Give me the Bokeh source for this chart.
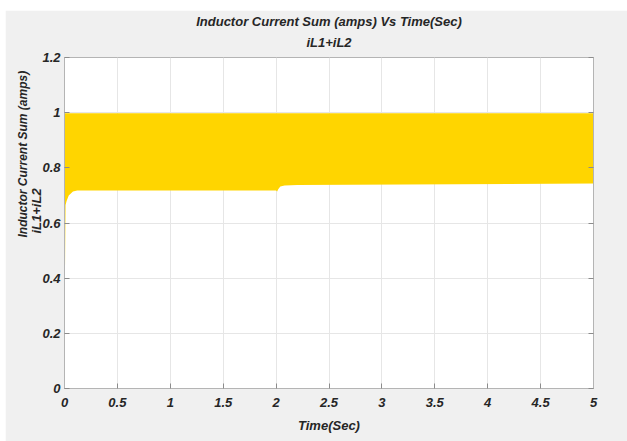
from bokeh.plotting import figure
from bokeh.models import Range1d, LinearAxis, Title, FixedTicker
from bokeh.embed import file_html
from bokeh.resources import INLINE

# Envelope of the summed inductor current ripple (iL1 + iL2)
time_s = [0.0, 0.004, 0.01, 0.02, 0.04, 0.08, 0.12, 1.98, 2.0, 2.01, 2.02, 2.04, 2.08, 2.2, 5.0]
lower_env = [0.0, 0.40, 0.665, 0.68, 0.70, 0.714, 0.718, 0.718, 0.718, 0.714, 0.722, 0.732, 0.736, 0.738, 0.743]
upper_env = [0.998] * len(time_s)

x_ticks = [0, 0.5, 1, 1.5, 2, 2.5, 3, 3.5, 4, 4.5, 5]
y_ticks = [0, 0.2, 0.4, 0.6, 0.8, 1.0, 1.2]
x_tick_labels = ["0", "0.5", "1", "1.5", "2", "2.5", "3", "3.5", "4", "4.5", "5"]
y_tick_labels = ["0", "0.2", "0.4", "0.6", "0.8", "1", "1.2"]

FONT = "Liberation Sans"
TXT = "#262626"
EDGE = "#b4b4b4"

p = figure(width=622, height=431, output_backend="svg", toolbar_location=None,
           x_range=Range1d(0, 5), y_range=Range1d(0, 1.2),
           min_border_left=59, min_border_right=34,
           min_border_top=47, min_border_bottom=53,
           background_fill_color="white", border_fill_color="#f0f0f0",
           outline_line_color=EDGE)
p.margin = (10, 0, 0, 5)

p.varea(x=time_s, y1=lower_env, y2=upper_env, fill_color="#FFD500")

for ax, ticks, labels in ((p.xaxis[0], x_ticks, x_tick_labels), (p.yaxis[0], y_ticks, y_tick_labels)):
    ax.ticker = FixedTicker(ticks=ticks)
    ax.major_label_overrides = dict(zip(ticks, labels))
    ax.axis_line_color = EDGE
    ax.major_tick_line_color = "#8c8c8c"
    ax.major_tick_in = 5
    ax.major_tick_out = 0
    ax.minor_tick_line_color = None
    ax.major_label_text_font = FONT
    ax.major_label_text_font_style = "bold italic"
    ax.major_label_text_font_size = "13px"
    ax.major_label_text_color = TXT
p.xaxis[0].major_label_standoff = 9
p.yaxis[0].major_label_standoff = 4

p.xaxis[0].axis_label = "Time(Sec)"
p.xaxis[0].axis_label_text_font = FONT
p.xaxis[0].axis_label_text_font_style = "bold italic"
p.xaxis[0].axis_label_text_font_size = "13px"
p.xaxis[0].axis_label_text_color = TXT
p.xaxis[0].axis_label_standoff = 8

# tick marks on the right edge of the box, without labels
right_ax = LinearAxis(ticker=FixedTicker(ticks=y_ticks))
right_ax.major_label_overrides = {t: "" for t in y_ticks}
right_ax.axis_line_color = EDGE
right_ax.major_tick_line_color = "#8c8c8c"
right_ax.major_tick_in = 5
right_ax.major_tick_out = 0
right_ax.minor_tick_line_color = None
right_ax.major_label_standoff = 0
p.add_layout(right_ax, "right")

p.xgrid.ticker = FixedTicker(ticks=x_ticks)
p.ygrid.ticker = FixedTicker(ticks=y_ticks)
p.grid.grid_line_color = "#e6e6e6"

def title(text, side, align="center", offset=0, standoff=2, size="13px"):
    t = Title(text=text, align=align, offset=offset, standoff=standoff,
              text_font=FONT, text_font_style="bold italic",
              text_font_size=size, text_color=TXT)
    p.add_layout(t, side)

# stacked from the frame outwards
title("iL1+iL2", "above", standoff=15)
title("Inductor Current Sum (amps) Vs Time(Sec)", "above", standoff=-6)
title("iL1+iL2", "left", align="left", offset=155, standoff=-9)
title("Inductor Current Sum (amps)", "left", align="left", offset=151, standoff=3, size="12px")

open("out.html", "w").write(file_html(p, INLINE))
